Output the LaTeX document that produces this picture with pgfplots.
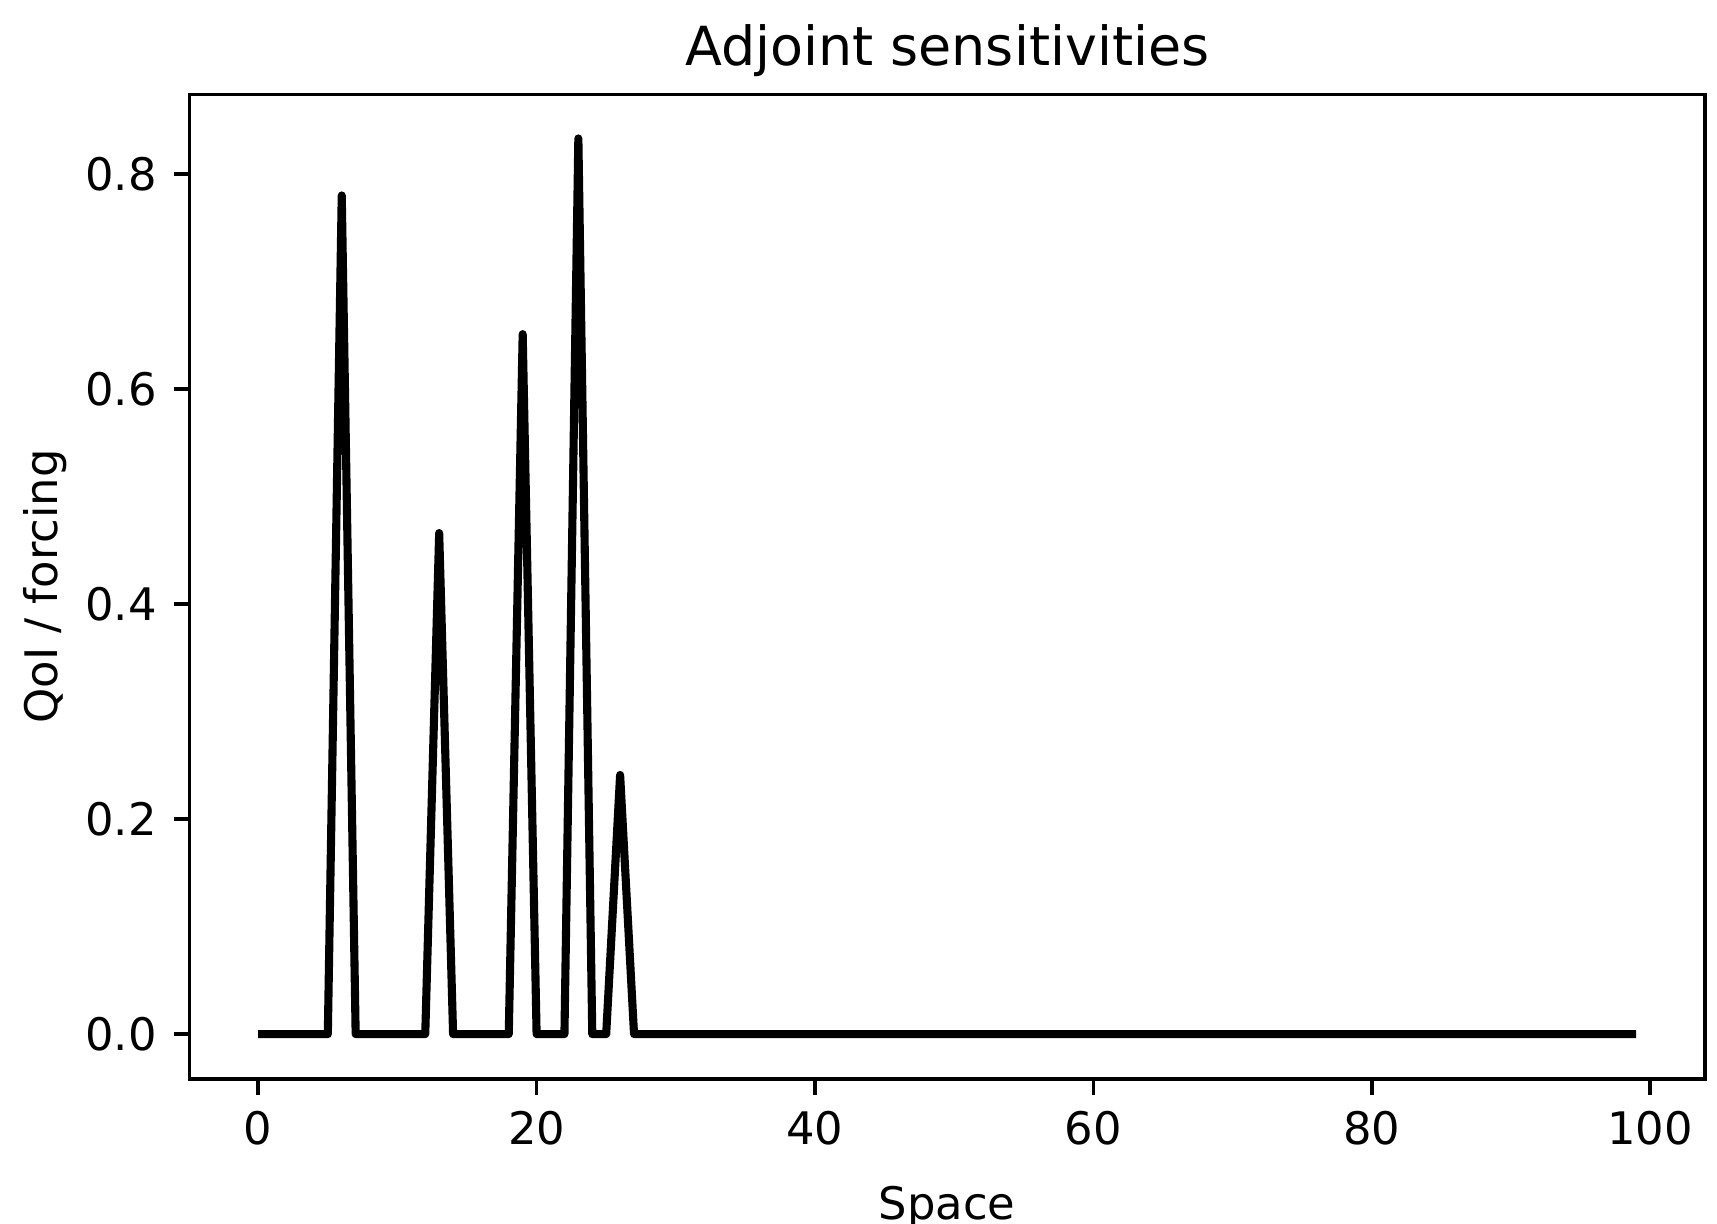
\documentclass[border=0pt]{standalone}
\usepackage{fontspec}
\setmainfont{DejaVu Sans}
\usepackage{pgfplots}
\pgfplotsset{compat=1.18}

\begin{document}
\begin{tikzpicture}
\begin{axis}[scale only axis,width=317.8pt,height=206.4pt,
  xmin=-4.95,xmax=103.95,ymin=-0.0416,ymax=0.874,
  xtick={0,20,40,60,80,100},
  ytick={0,0.2,0.4,0.6,0.8},
  yticklabel style={/pgf/number format/fixed,/pgf/number format/fixed zerofill,/pgf/number format/precision=1},
  /pgf/number format/assume math mode=true,
  tick align=outside,tick pos=left,
  major tick length=3.3pt,
  tick style={black,line width=0.75pt},
  axis line style={line width=0.75pt},
  tick label style={font=\fontsize{9.4}{11}\selectfont},
  label style={font=\fontsize{9.4}{11}\selectfont},
  every axis title shift=0pt,
  title style={font=\fontsize{11.3}{13}\selectfont,at={(axis description cs:0.5,1)},anchor=base,inner sep=0pt,yshift=6pt},
  xlabel style={at={(axis description cs:0.5,0)},anchor=base,inner sep=0pt,yshift=-29.4pt,overlay},
  ylabel style={at={(axis description cs:-0.0953,0.5)},anchor=center},
  title={Adjoint sensitivities},
  xlabel={Space},ylabel={QoI / forcing}]
\addplot[black,line width=1.7pt,line join=round] coordinates
  {(0,0)(5,0)(6,0.780)(7,0)(12,0)(13,0.466)(14,0)(18,0)(19,0.651)(20,0)
   (22,0)(23,0.833)(24,0)(25,0)(26,0.241)(27,0)(99,0)};
\end{axis}
\path (current axis.south west) ++(-39.7pt,-30.4pt) rectangle ++(360pt,256.6pt);
\end{tikzpicture}
\end{document}
